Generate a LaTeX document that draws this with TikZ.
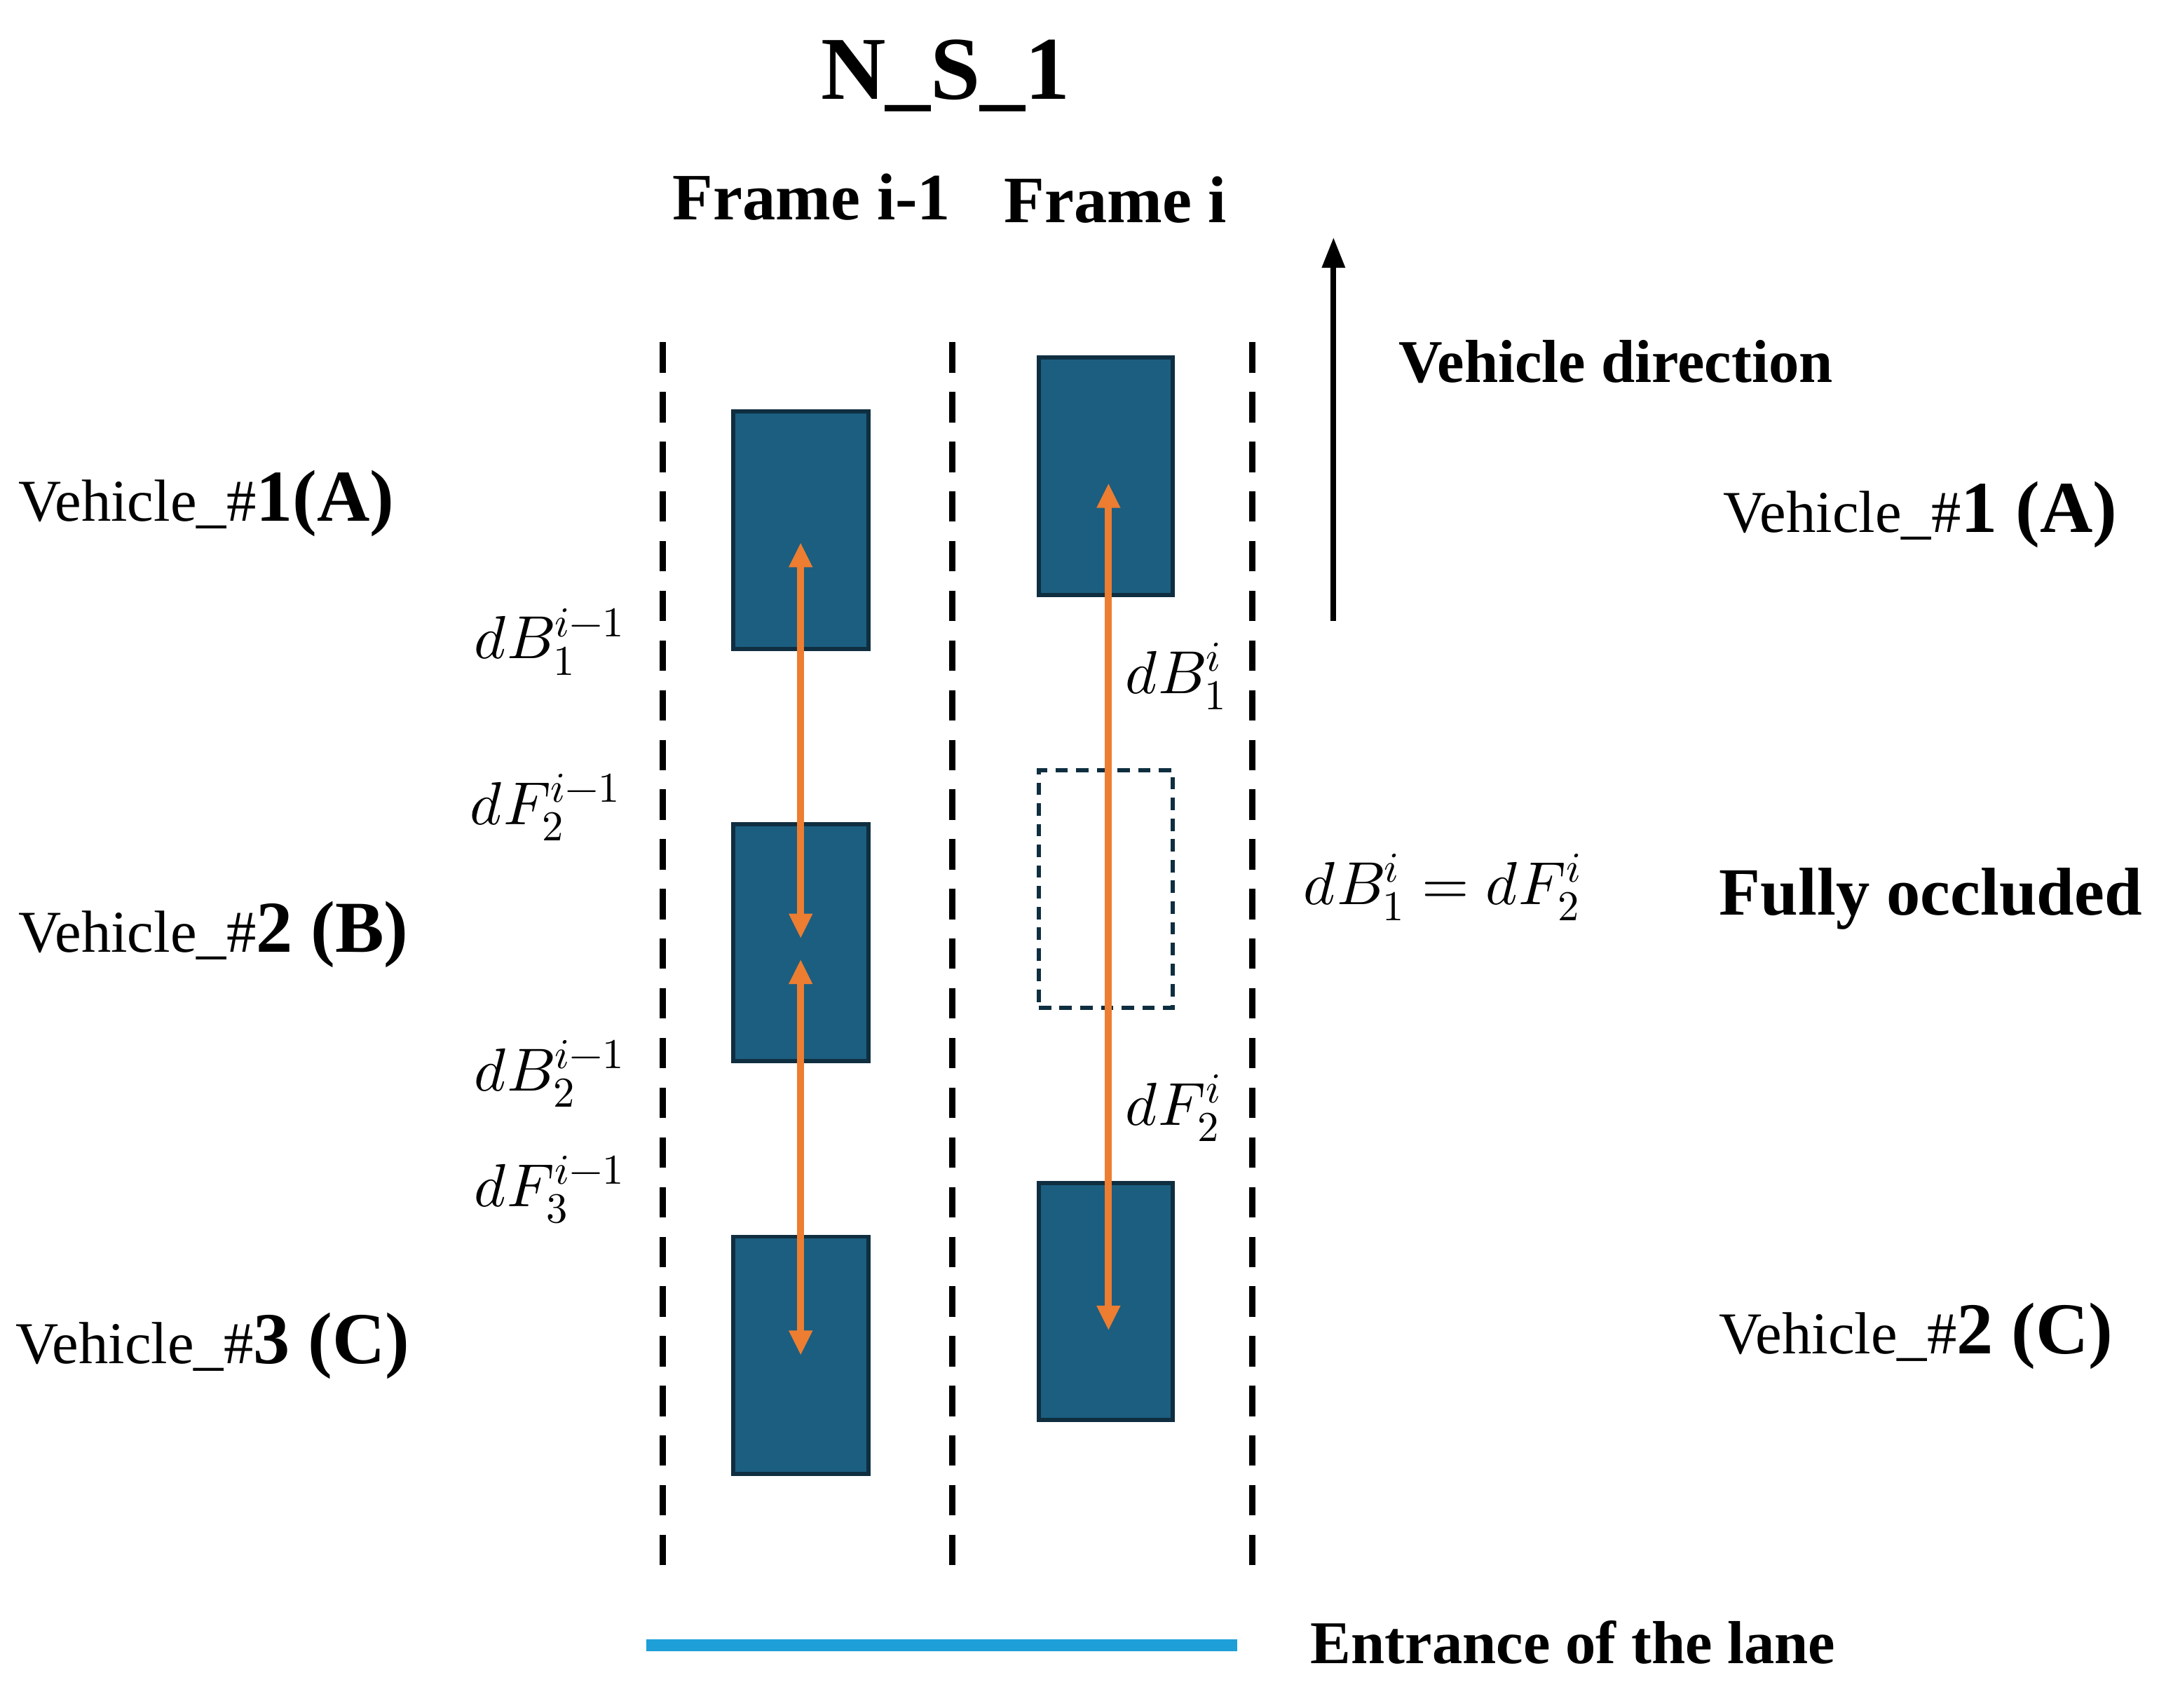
\documentclass[tikz,border=0pt]{standalone}
\usepackage{fontspec}
\usepackage{unicode-math}
\setmainfont{Liberation Serif}
\setmathfont{Latin Modern Math}
\usetikzlibrary{arrows.meta}
\definecolor{car}{HTML}{1B5E80}
\definecolor{edge}{HTML}{0F2E40}
\definecolor{org}{HTML}{ED7D31}
\definecolor{lane}{HTML}{1E9FD8}
\newcommand{\bn}[1]{\textbf{\fontsize{53}{56}\selectfont #1}}
\begin{document}
\begin{tikzpicture}[x=1pt,y=-1pt,
  lanel/.style={line width=4.5pt,dash pattern=on 22pt off 14pt},
  veh/.style={fill=car,draw=edge,line width=3pt},
  arr/.style={org,line width=5pt,{Triangle[length=18pt,width=16pt]}-{Triangle[length=18pt,width=16pt]}},
  lab/.style={font=\fontsize{43}{46}\selectfont},
  bl/.style={font=\fontsize{44}{48}\selectfont\bfseries},
  mth/.style={font=\fontsize{44}{48}\selectfont}]
\useasboundingbox (0,0) rectangle (1564,1237);
\node[font=\fontsize{65}{70}\selectfont\bfseries] (t) at (685,55) {N\_S\_1};
\node[font=\fontsize{48}{52}\selectfont\bfseries] (f1) at (588,143) {Frame i-1};
\node[font=\fontsize{48}{52}\selectfont\bfseries] (f2) at (808,145) {Frame i};
\foreach \x/\n in {480/a,690/b,907/c}{\draw[lanel] (\x,248) -- (\x,1140);}
\coordinate (d0) at (966,450); \coordinate (d1) at (966,172);
\draw[line width=4pt,-{Triangle[length=22pt,width=16pt]}] (d0) -- (d1);
\node[bl,anchor=west] (vd) at (1010,262) {Vehicle direction};
\node[veh,minimum width=98pt,minimum height=172pt] (b1) at (580,384) {};
\node[veh,minimum width=98pt,minimum height=172pt] (b2) at (580,683) {};
\node[veh,minimum width=98pt,minimum height=172pt] (b3) at (580,982) {};
\node[veh,minimum width=97pt,minimum height=172pt] (r1) at (801,345) {};
\node[draw=edge,line width=3pt,dash pattern=on 9pt off 6pt,minimum width=97pt,minimum height=172pt] (r2) at (801,644) {};
\node[veh,minimum width=97pt,minimum height=172pt] (r3) at (801,943) {};
\coordinate (a1) at (580,393); \coordinate (a2) at (580,680);
\coordinate (a3) at (580,695); \coordinate (a4) at (580,982);
\coordinate (a5) at (803,350); \coordinate (a6) at (803,964);
\draw[arr] (a1) -- (a2); \draw[arr] (a3) -- (a4); \draw[arr] (a5) -- (a6);
\node[mth] (m1) at (398,465) {$dB_1^{i-1}$};
\node[mth] (m2) at (395,585) {$dF_2^{i-1}$};
\node[mth] (m3) at (398,778) {$dB_2^{i-1}$};
\node[mth] (m4) at (398,862) {$dF_3^{i-1}$};
\node[mth] (m5) at (852,490) {$dB_1^{i}$};
\node[mth] (m6) at (1045,643) {$dB_1^{i}=dF_2^{i}$};
\node[mth] (m7) at (850,803) {$dF_2^{i}$};
\node[lab,anchor=west] (v1) at (10,365) {Vehicle\_\#\bn{1(A)}};
\node[lab,anchor=west] (v2) at (10,677) {Vehicle\_\#\bn{2 (B)}};
\node[lab,anchor=west] (v3) at (8,975) {Vehicle\_\#\bn{3 (C)}};
\node[lab,anchor=west] (w1) at (1245,373) {Vehicle\_\#\bn{1 (A)}};
\node[font=\fontsize{49}{52}\selectfont\bfseries,anchor=west] (fo) at (1242,651) {Fully occluded};
\node[lab,anchor=west] (w2) at (1242,968) {Vehicle\_\#\bn{2 (C)}};
\coordinate (e0) at (468,1192); \coordinate (e1) at (896,1192);
\draw[lane,line width=9pt] (e0) -- (e1);
\node[bl,anchor=west] (en) at (946,1190) {Entrance of the lane};
\end{tikzpicture}
\end{document}
